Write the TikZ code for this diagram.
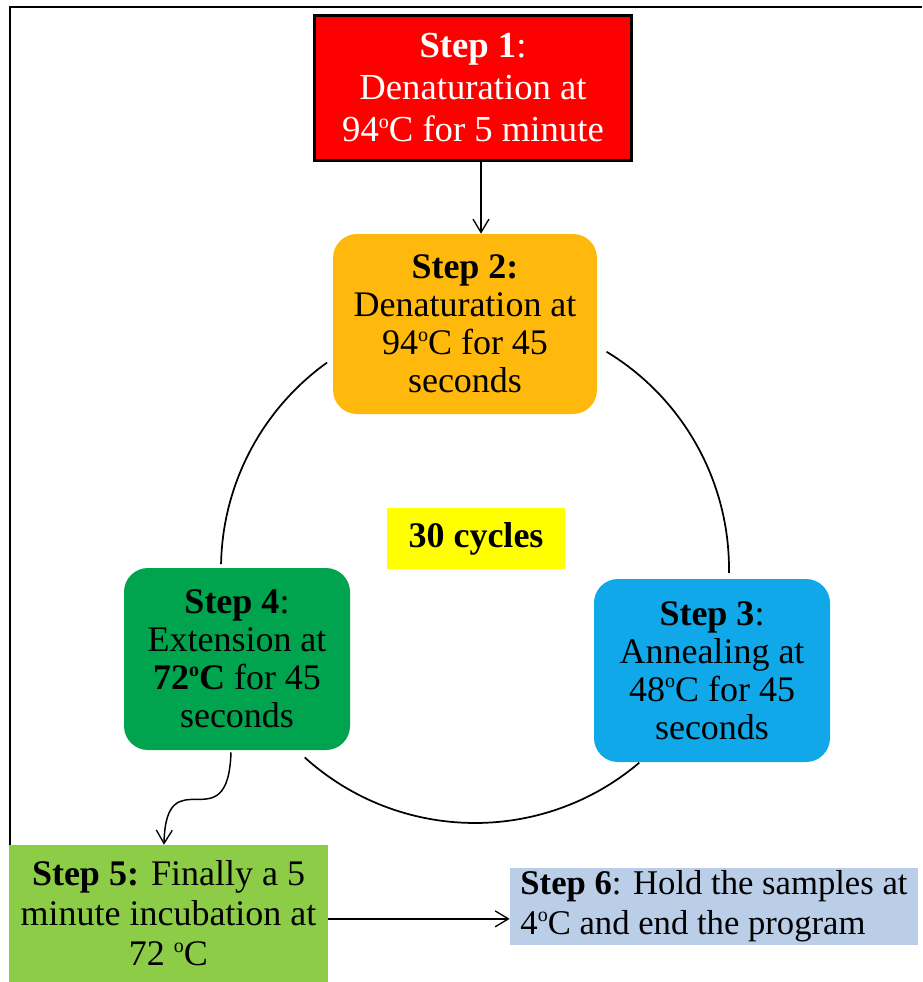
\documentclass[tikz,border=0pt]{standalone}
\usepackage{fontspec}
\setmainfont{Liberation Serif}
\usetikzlibrary{arrows.meta,calc}
\definecolor{cred}{RGB}{255,0,0}
\definecolor{corange}{RGB}{255,185,12}
\definecolor{cgreen}{RGB}{0,163,78}
\definecolor{cblue}{RGB}{16,168,232}
\definecolor{cyel}{RGB}{255,255,0}
\definecolor{clgreen}{RGB}{140,204,70}
\definecolor{clblue}{RGB}{187,206,232}
\newcommand{\dg}{\raisebox{10pt}{\fontsize{15}{15}\selectfont o}}
\tikzset{
  stepbox/.style={align=center, inner sep=0pt, font=\fontsize{27}{28.5}\selectfont},
  roundbox/.style={stepbox, rounded corners=18pt},
  conn/.style={line width=1.1pt, -{Straight Barb[length=10pt,width=12pt,line width=1pt]}},
  ring/.style={line width=1.3pt}
}
\begin{document}
\begin{tikzpicture}[x=0.75pt,y=-0.75pt]
\useasboundingbox (0,0) rectangle (922,982);
\fill[white] (0,0) rectangle (922,982);
% frame
\draw[line width=1.6pt] (10,982) -- (10,7) -- (922,7);

% nodes
\node[stepbox, fill=cred, draw=black, line width=2.3pt, text=white,
      minimum width=238pt, minimum height=109pt,
      font=\fontsize{27.5}{31.5}\selectfont] (s1) at (473,88)
  {\textbf{Step 1}:\\Denaturation at\\94\dg C for 5 minute};
\node[roundbox, fill=corange, minimum width=198pt, minimum height=135pt] (s2) at (465,324)
  {\textbf{Step 2:}\\Denaturation at\\94\dg C for 45\\seconds};
\node[roundbox, fill=cgreen, minimum width=169.5pt, minimum height=136.5pt] (s4) at (237,659)
  {\textbf{Step 4}:\\Extension at\\\textbf{72\dg C} for 45\\seconds};
\node[roundbox, fill=cblue, minimum width=177pt, minimum height=137.25pt] (s3) at (712,670.5)
  {\textbf{Step 3}:\\Annealing at\\48\dg C for 45\\seconds};
\node[stepbox, fill=cyel, minimum width=133.5pt, minimum height=45.75pt] (cyc) at (476,538.5)
  {\textbf{30 cycles}};
\node[stepbox, fill=clgreen, minimum width=239.25pt, minimum height=102.75pt,
      font=\fontsize{27}{30}\selectfont] (s5) at (168.5,913.5)
  {\textbf{Step 5:} Finally a 5\\minute incubation at\\72 \dg C};
\node[stepbox, fill=clblue, align=left,
      minimum width=306pt, minimum height=57.75pt, font=\fontsize{26}{30}\selectfont] (s6) at (714,906.5)
  {\textbf{Step 6}: Hold the samples at\\4\dg C and end the program};

% cycle ring
\coordinate (cc) at (475,569);
\draw[ring] ($(cc)+(234.4:254)$) arc[start angle=234.4, end angle=181.1, radius=254];
\draw[ring] ($(cc)+(-58.8:254)$) arc[start angle=-58.8, end angle=0.9, radius=254];
\draw[ring] ($(cc)+(132.1:254)$) arc[start angle=132.1, end angle=49.7, radius=254];

% arrows
\draw[conn] ([xshift=6pt]s1.south) -- ([xshift=6pt]s1.south |- s2.north);
\draw[conn] ([xshift=-4.5pt,yshift=-1.5pt]s4.south) .. controls (228,845) and (166,755) .. ([xshift=-3.4pt]s5.north);
\draw[conn] ([yshift=-4pt]s5.east) -- ([yshift=-4pt]s5.east -| s6.west);
\end{tikzpicture}
\end{document}
